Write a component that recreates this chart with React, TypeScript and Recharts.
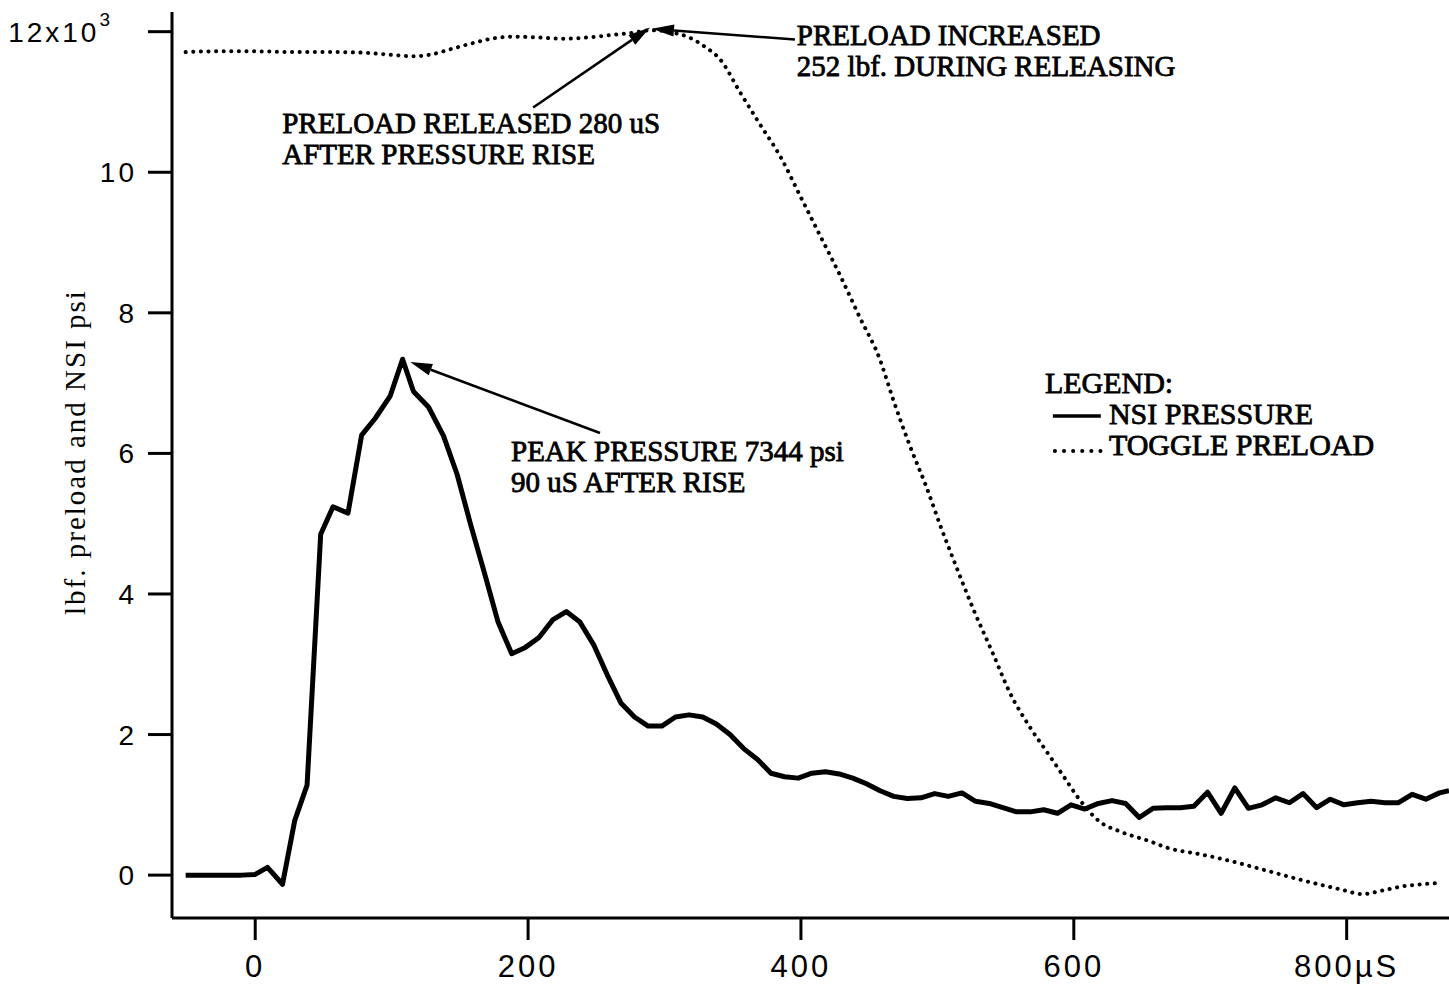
import { LineChart, Line, XAxis, YAxis, ReferenceLine, ReferenceDot } from "recharts";

// time in µs, values in thousands (lbf / psi)
const nsiTimes = [
  -51, -40, -30, -20, -10, 0, 9, 20, 29, 38, 48, 57, 68, 78, 88, 99, 108, 116, 127, 138,
  148, 158, 168, 178, 188, 198, 208, 218, 228, 238, 248, 258, 268, 278, 288, 298, 308, 318,
  328, 338, 348, 358, 368, 378, 388, 398, 408, 418, 428, 438, 448, 458, 468, 478, 488, 498,
  508, 518, 528, 538, 548, 558, 568, 578, 588, 598, 608, 618, 628, 638, 648, 658, 668, 678,
  688, 698, 708, 718, 728, 738, 748, 758, 768, 778, 788, 798, 808, 818, 828, 838, 848, 858,
  868, 875,
];
const nsiPressure = [
  0, 0, 0, 0, 0, 0.01, 0.11, -0.13, 0.78, 1.28, 4.85, 5.24, 5.15, 6.26, 6.5, 6.82, 7.34, 6.88,
  6.66, 6.25, 5.7, 4.98, 4.3, 3.6, 3.15, 3.24, 3.38, 3.63, 3.75, 3.6, 3.28, 2.85, 2.45, 2.25,
  2.12, 2.12, 2.25, 2.28, 2.25, 2.15, 2.0, 1.8, 1.65, 1.45, 1.4, 1.38, 1.45, 1.47, 1.44, 1.38,
  1.3, 1.2, 1.12, 1.09, 1.1, 1.16, 1.12, 1.17, 1.05, 1.02, 0.96, 0.9, 0.9, 0.93, 0.88, 1.0,
  0.94, 1.02, 1.06, 1.02, 0.82, 0.95, 0.96, 0.96, 0.98, 1.18, 0.88, 1.24, 0.95, 1.0, 1.1, 1.03,
  1.16, 0.96, 1.08, 1.0, 1.03, 1.05, 1.03, 1.03, 1.15, 1.08, 1.17, 1.2,
];

const preloadTimes = [
  -51, -30, 0, 30, 55, 80, 100, 116, 130, 143, 158, 173, 190, 205, 226, 245, 260, 275, 290,
  305, 319, 330, 341, 355, 370, 385, 399, 414, 429, 443, 458, 467, 480, 492, 502, 514, 526,
  541, 553, 568, 580, 592, 604, 619, 634, 656, 670, 692, 717, 746, 773, 795, 812, 826, 841,
  855, 870,
];
const preloadForce = [
  11.71, 11.72, 11.72, 11.71, 11.71, 11.7, 11.67, 11.65, 11.68, 11.75, 11.83, 11.9, 11.93,
  11.92, 11.9, 11.92, 11.95, 11.98, 12.02, 11.99, 11.91, 11.78, 11.6, 11.15, 10.68, 10.22,
  9.68, 9.1, 8.52, 7.94, 7.33, 6.8, 6.1, 5.52, 4.98, 4.38, 3.8, 3.14, 2.6, 2.1, 1.76, 1.42,
  1.08, 0.76, 0.62, 0.48, 0.38, 0.3, 0.19, 0.04, -0.1, -0.2, -0.27, -0.22, -0.16, -0.13, -0.11,
];

const xTicks = [0, 200, 400, 600, 800];
const yTicks = [0, 2, 4, 6, 8, 10, 12];

const nsiData = nsiTimes.map((t, i) => ({ t, v: nsiPressure[i] }));
const preloadData = preloadTimes.map((t, i) => ({ t, v: preloadForce[i] }));

const SERIF = "'Liberation Serif', 'Times New Roman', serif";
const SANS = "'Liberation Sans', Arial, Helvetica, sans-serif";

const XTick = ({ x, y, payload }: any) => (
  <text x={x} y={y} dy="0.71em" textAnchor="middle" fontFamily={SANS} fontSize={31} letterSpacing={3} fill="#000">
    {payload.value === 800 ? "800µS" : payload.value}
  </text>
);

const YTick = ({ x, y, payload }: any) => {
  if (payload.value === 12) {
    return (
      <text x={x - 24} y={y + 10} textAnchor="end" fontFamily={SANS} fontSize={28} letterSpacing={3} fill="#000">
        12x10<tspan dy={-16} fontSize={19}>3</tspan>
      </text>
    );
  }
  return (
    <text x={x} y={y + 10} textAnchor="end" fontFamily={SANS} fontSize={28} letterSpacing={3} fill="#000">
      {payload.value}
    </text>
  );
};

const AxisTitle = ({ viewBox }: any) => {
  const cx = (viewBox?.x ?? 0) + 75;
  const cy = (viewBox?.y ?? 12) + (viewBox?.height ?? 906) / 2 - 13;
  return (
    <text x={cx} y={cy} transform={`rotate(-90 ${cx} ${cy})`} textAnchor="middle" dominantBaseline="central"
      fontFamily={SERIF} fontSize={29} letterSpacing={2} fill="#000">
      lbf. preload and NSI psi
    </text>
  );
};

const Arrow = (props: any) => {
  const { x1, y1, x2, y2 } = props;
  const a = Math.atan2(y2 - y1, x2 - x1);
  const len = 22;
  const half = 6;
  const bx = x2 - len * Math.cos(a);
  const by = y2 - len * Math.sin(a);
  const px = -Math.sin(a) * half;
  const py = Math.cos(a) * half;
  return (
    <g>
      <line x1={x1} y1={y1} x2={bx} y2={by} stroke="#000" strokeWidth={2.5} />
      <polygon points={`${x2},${y2} ${bx + px},${by + py} ${bx - px},${by - py}`} fill="#000" />
    </g>
  );
};

const note = (lines: string[]) => (props: any) => (
  <text x={props.cx} y={props.cy} fontFamily={SERIF} fontSize={29} fill="#000" stroke="#000" strokeWidth={0.8}>
    {lines.map((l, i) => (
      <tspan key={i} x={props.cx} dy={i === 0 ? 0 : 31}>{l}</tspan>
    ))}
  </text>
);

const LegendNote = (props: any) => {
  const { cx, cy } = props;
  const txt = { fontFamily: SERIF, fontSize: 30, fill: "#000", stroke: "#000", strokeWidth: 0.8 };
  return (
    <g>
      <text x={cx} y={cy} {...txt}>LEGEND:</text>
      <line x1={cx + 8} x2={cx + 56} y1={cy + 23} y2={cy + 23} stroke="#000" strokeWidth={3.5} />
      <text x={cx + 64} y={cy + 31} {...txt}>NSI PRESSURE</text>
      <line x1={cx + 10} x2={cx + 56} y1={cy + 58} y2={cy + 58} stroke="#000" strokeWidth={4}
        strokeDasharray="0.1 9" strokeLinecap="round" />
      <text x={cx + 64} y={cy + 62} {...txt}>TOGGLE PRELOAD</text>
    </g>
  );
};

export default function App() {
  return (
    <div style={{ position: "absolute", left: 0, top: 0, background: "#fff" }}>
      <LineChart width={1449} height={985} margin={{ top: 12, right: 0, left: 0, bottom: 0 }}>
        <XAxis
          dataKey="t"
          type="number"
          domain={[-61, 875]}
          ticks={xTicks}
          allowDataOverflow
          height={67}
          tickSize={22}
          tickMargin={15}
          tick={<XTick />}
          axisLine={{ stroke: "#000", strokeWidth: 3 }}
          tickLine={{ stroke: "#000", strokeWidth: 3 }}
        />
        <YAxis
          type="number"
          domain={[-0.61, 12.28]}
          ticks={yTicks}
          allowDataOverflow
          width={172}
          tickSize={24}
          tickMargin={11}
          tick={<YTick />}
          axisLine={{ stroke: "#000", strokeWidth: 3 }}
          tickLine={{ stroke: "#000", strokeWidth: 3 }}
          label={<AxisTitle />}
        />
        <Line
          data={preloadData}
          dataKey="v"
          type="monotone"
          stroke="#000"
          strokeWidth={4}
          strokeDasharray="0.1 7.5"
          strokeLinecap="round"
          dot={false}
          isAnimationActive={false}
        />
        <Line
          data={nsiData}
          dataKey="v"
          type="linear"
          stroke="#000"
          strokeWidth={5}
          strokeLinejoin="round"
          dot={false}
          isAnimationActive={false}
        />
        <ReferenceLine segment={[{ x: 395.6, y: 11.89 }, { x: 290.8, y: 12.04 }]} shape={Arrow} />
        <ReferenceLine segment={[{ x: 203.7, y: 10.92 }, { x: 289.4, y: 12.06 }]} shape={Arrow} />
        <ReferenceLine segment={[{ x: 252.7, y: 6.29 }, { x: 113.6, y: 7.3 }]} shape={Arrow} />
        <ReferenceDot x={397} y={11.81} r={1} shape={note(["PRELOAD INCREASED", "252 lbf. DURING RELEASING"])} />
        <ReferenceDot x={19.8} y={10.56} r={1} shape={note(["PRELOAD RELEASED 280 uS", "AFTER PRESSURE RISE"])} />
        <ReferenceDot x={187.5} y={5.89} r={1} shape={note(["PEAK PRESSURE 7344 psi", "90 uS AFTER RISE"])} />
        <ReferenceDot x={578.8} y={6.86} r={1} shape={LegendNote} />
      </LineChart>
    </div>
  );
}
